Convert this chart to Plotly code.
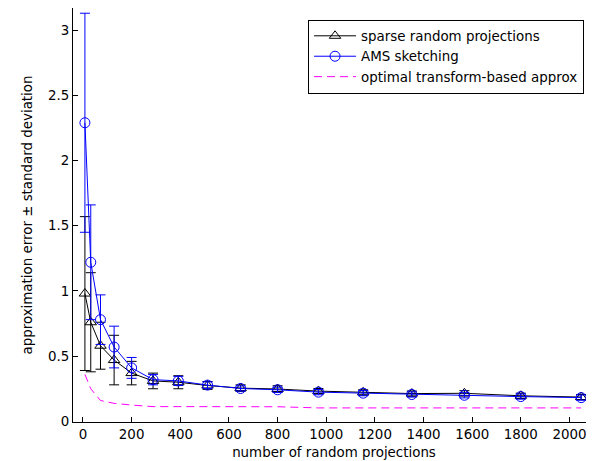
import plotly.graph_objects as go

# number of random projections
n_proj = [8, 32, 72, 128, 200, 288, 392, 512, 648, 800, 968, 1152, 1352, 1568, 1800, 2048]

# sparse random projections: mean error and standard deviation
sparse_mean = [0.98, 0.76, 0.58, 0.47, 0.37, 0.31, 0.30, 0.275, 0.255, 0.248, 0.232, 0.222, 0.213, 0.215, 0.196, 0.186]
sparse_std = [0.59, 0.38, 0.18, 0.19, 0.09, 0.06, 0.05, 0.03, 0.025, 0.025, 0.02, 0.02, 0.02, 0.02, 0.02, 0.02]

# AMS sketching: mean error and standard deviation
ams_mean = [2.29, 1.22, 0.78, 0.57, 0.41, 0.32, 0.31, 0.278, 0.252, 0.242, 0.224, 0.216, 0.206, 0.200, 0.190, 0.182]
ams_std = [0.84, 0.44, 0.19, 0.16, 0.08, 0.04, 0.035, 0.025, 0.02, 0.02, 0.02, 0.02, 0.02, 0.02, 0.02, 0.02]

# optimal transform-based approximation
optimal = [0.36, 0.25, 0.16, 0.138, 0.125, 0.113, 0.113, 0.112, 0.112, 0.112, 0.103, 0.103, 0.103, 0.103, 0.103, 0.103]

x_ticks = [0, 200, 400, 600, 800, 1000, 1200, 1400, 1600, 1800, 2000]
y_ticks = [0, 0.5, 1, 1.5, 2, 2.5, 3]

FONT = "DejaVu Sans, sans-serif"
FS = 13.4

fig = go.Figure()
fig.add_trace(go.Scatter(
    x=n_proj, y=sparse_mean, name="sparse random projections",
    mode="lines+markers",
    line=dict(color="black", width=1),
    marker=dict(symbol="triangle-up-open", size=10, color="black", line=dict(width=1)),
    error_y=dict(type="data", array=sparse_std, visible=True, color="black", thickness=1, width=5),
))
fig.add_trace(go.Scatter(
    x=n_proj, y=ams_mean, name="AMS sketching",
    mode="lines+markers",
    line=dict(color="#0000ff", width=1),
    marker=dict(symbol="circle-open", size=10, color="#0000ff", line=dict(width=1)),
    error_y=dict(type="data", array=ams_std, visible=True, color="#0000ff", thickness=1, width=5),
))
fig.add_trace(go.Scatter(
    x=n_proj, y=optimal, name="optimal transform-based approx",
    mode="lines",
    line=dict(color="#ff00ff", width=1, dash="8px,5px"),
))

fig.update_layout(
    width=594, height=461,
    margin=dict(l=65, r=7, t=0, b=47),
    paper_bgcolor="white", plot_bgcolor="white",
    font=dict(family=FONT, size=FS, color="black"),
    showlegend=True,
    legend=dict(
        x=0.979, y=0.972, xanchor="right", yanchor="top",
        bordercolor="black", borderwidth=1, bgcolor="white",
        font=dict(family=FONT, size=FS, color="black"),
        tracegroupgap=0, itemwidth=42,
    ),
    xaxis=dict(
        range=[-41, 2105], tickvals=x_ticks, ticktext=[str(v) for v in x_ticks],
        showgrid=False, zeroline=False, showline=True, linecolor="black", linewidth=1,
        ticks="inside", ticklen=5, tickcolor="black", mirror=False,
        tickfont=dict(size=FS),
        title=dict(text="number of random projections", standoff=6, font=dict(size=FS)),
        automargin=False,
    ),
    yaxis=dict(
        range=[-0.005, 3.17], tickvals=y_ticks, ticktext=["0", "0.5", "1", "1.5", "2", "2.5", "3"],
        showgrid=False, zeroline=False, showline=True, linecolor="black", linewidth=1,
        ticks="inside", ticklen=5, tickcolor="black", mirror=False,
        tickfont=dict(size=FS),
        title=dict(text="approximation error ± standard deviation", standoff=12, font=dict(size=FS)),
        automargin=False,
    ),
)

fig.write_html("out.html")
